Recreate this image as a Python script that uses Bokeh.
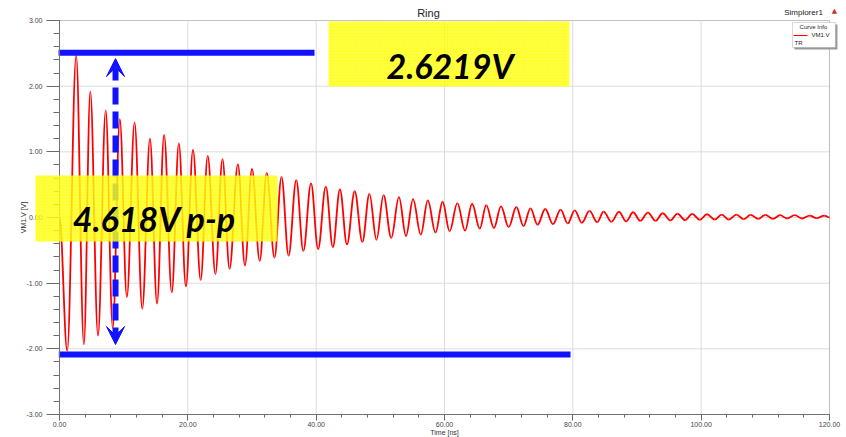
import numpy as np
from bokeh.plotting import figure
from bokeh.models import (Range1d, FixedTicker, PrintfTickFormatter, BoxAnnotation,
                          Label, Arrow, VeeHead)
from bokeh.embed import file_html
from bokeh.resources import INLINE

# ---- data: successive extremes of the ringing waveform ----
t_ext = [0.0, 1.2, 2.6, 3.8, 4.8, 6.0, 7.2, 8.3, 9.4, 10.5, 11.7, 12.9, 14.1, 15.2, 16.3,
         17.5, 18.6, 19.7, 20.8, 22.0, 23.1, 24.3, 25.4, 26.5, 27.8, 28.9, 30.0, 31.2,
         32.3, 33.5, 34.6, 35.7, 36.9, 38.0, 39.2, 40.3, 41.5, 42.6, 43.7, 44.8, 46.0,
         47.2, 48.3, 49.4, 50.5, 51.7, 52.9, 54.0, 55.1, 56.3, 57.4, 58.6, 59.7, 60.8,
         62.0, 63.2, 64.3, 65.5, 66.5, 67.7, 68.8, 70.0, 71.2, 72.3, 73.4, 74.5, 75.7,
         76.9, 78.1, 79.2, 80.3, 81.4, 82.6, 83.8, 84.8, 86.0, 87.2, 88.3, 89.4, 90.5,
         91.7, 92.9, 94.0, 95.2, 96.3, 97.5, 98.6, 99.8, 100.9, 102.1, 103.2, 104.3,
         105.5, 106.6, 107.7, 108.9, 110.0, 111.2, 112.3, 113.4, 114.6, 115.7, 116.9,
         118.0, 119.2, 120.0]
v_ext = [0.0, -2.03, 2.47, -1.93, 1.92, -1.80, 1.63, -1.68, 1.50, -1.21, 1.45, -1.39, 1.20,
         -1.31, 1.26, -1.14, 1.13, -1.05, 1.03, -0.95, 0.94, -0.86, 0.89, -0.78, 0.81,
         -0.73, 0.74, -0.66, 0.68, -0.61, 0.62, -0.58, 0.57, -0.51, 0.52, -0.48, 0.47,
         -0.45, 0.43, -0.41, 0.40, -0.37, 0.36, -0.34, 0.34, -0.31, 0.31, -0.28, 0.28,
         -0.26, 0.26, -0.23, 0.24, -0.21, 0.22, -0.20, 0.21, -0.17, 0.19, -0.16, 0.17,
         -0.145, 0.16, -0.13, 0.14, -0.11, 0.13, -0.10, 0.12, -0.09, 0.11, -0.08, 0.10,
         -0.07, 0.09, -0.065, 0.085, -0.06, 0.08, -0.05, 0.075, -0.05, 0.065, -0.045,
         0.06, -0.04, 0.055, -0.035, 0.05, -0.03, 0.045, -0.03, 0.045, -0.025, 0.04,
         -0.02, 0.04, -0.02, 0.035, -0.015, 0.035, -0.015, 0.03, -0.01, 0.03, 0.0]

x_major = [0, 20, 40, 60, 80, 100, 120]
y_major = [-3, -2, -1, 0, 1, 2, 3]
x_minor = list(range(0, 121, 4))
y_minor = [round(-3 + 0.2 * i, 1) for i in range(31)]

peak_level = 2.51        # top marker line (V)
trough_level = -2.086    # bottom marker line (V)
peak_text = "2.6219V"
pp_text = "4.618V p-p"
title_text = "Ring"
series_name = "VM1.V"

RED = "#ff0000"
BLUE = "#1212ff"
YEL = "#ffff00"
GRID = "#dcdcdc"
AXC = "#6a6a6a"

X0, X1 = 0, 120
Y0, Y1 = -3, 3

# the frame spans the whole canvas; the axes are pinned at the data edges
p = figure(width=846, height=437, output_backend="svg", toolbar_location=None,
           x_range=Range1d(-9.195, 122.65), y_range=Range1d(-3.350, 3.305),
           min_border=0, min_border_left=0, min_border_right=0,
           min_border_top=0, min_border_bottom=0)
p.background_fill_color = "white"
p.border_fill_color = "white"
p.outline_line_color = None
p.xgrid.visible = False
p.ygrid.visible = False

p.xaxis.ticker = FixedTicker(ticks=x_major, minor_ticks=x_minor)
p.yaxis.ticker = FixedTicker(ticks=y_major, minor_ticks=y_minor)
p.xaxis.fixed_location = Y0
p.yaxis.fixed_location = X0
p.xaxis.bounds = (X0, X1)
p.yaxis.bounds = (Y0, Y1)
for ax in (p.xaxis[0], p.yaxis[0]):
    ax.formatter = PrintfTickFormatter(format="%.2f")
    ax.axis_line_color = AXC
    ax.major_tick_line_color = AXC
    ax.minor_tick_line_color = AXC
    ax.major_tick_in = 0
    ax.minor_tick_in = 0
    ax.major_label_text_font = "Liberation Sans"
    ax.major_label_text_color = "#444444"
    ax.major_label_text_font_size = "7px"
p.yaxis.major_tick_out = 13
p.yaxis.minor_tick_out = 6
p.yaxis.major_label_standoff = 4
p.xaxis.major_tick_out = 6
p.xaxis.minor_tick_out = 3
p.xaxis.major_label_standoff = 1

# grid lines inside the data area only
p.segment(x0=x_major, y0=[Y0] * len(x_major), x1=x_major, y1=[Y1] * len(x_major),
          line_color=GRID, line_width=1)
p.segment(x0=[X0] * len(y_major), y0=y_major, x1=[X1] * len(y_major), y1=y_major,
          line_color=GRID, line_width=1)

# waveform: smooth segments between successive extremes (horizontal tangents at extremes)
t = np.array(t_ext, dtype=float)
v = np.array(v_ext, dtype=float)
k = 0.3642
dt = t[1:] - t[:-1]
p.bezier(x0=t[:-1], y0=v[:-1], x1=t[1:], y1=v[1:],
         cx0=t[:-1] + k * dt, cy0=v[:-1], cx1=t[1:] - k * dt, cy1=v[1:],
         line_color=RED, line_width=1.8)

# frame border (top / right)
p.add_layout(BoxAnnotation(left=X0, right=X1, bottom=Y0, top=Y1, fill_color=None,
                           line_color="#858585", line_width=1))

# blue marker lines
p.segment(x0=[-0.15, -0.11], y0=[peak_level, trough_level], x1=[39.74, 79.64],
          y1=[peak_level, trough_level], line_color=BLUE, line_width=6, line_cap="butt")

# dashed double arrow
arrow = Arrow(start=VeeHead(size=18, fill_color=BLUE, line_color=BLUE),
              end=VeeHead(size=18, fill_color=BLUE, line_color=BLUE),
              x_start=8.73, y_start=-1.934, x_end=8.73, y_end=2.42,
              line_color=BLUE, line_width=6, line_dash="17 7")
p.add_layout(arrow)

# yellow call-out boxes
for (l, r, b, tp) in [(41.92, 79.48, 1.995, 2.985), (-3.74, 33.97, -0.365, 0.640)]:
    p.add_layout(BoxAnnotation(left=l, right=r, bottom=b, top=tp, fill_color=YEL,
                               fill_alpha=0.82, line_color=None, hatch_pattern=".",
                               hatch_color="white", hatch_alpha=0.3, hatch_scale=3))

p.add_layout(Label(x=60.86, y=2.315, text=peak_text, text_font="Lato",
                   text_font_style="bold italic", text_font_size="34px", text_color="black",
                   text_align="center", text_baseline="alphabetic"))
p.add_layout(Label(x=14.8, y=-0.015, text=pp_text, text_font="Lato",
                   text_font_style="bold italic", text_font_size="34px", text_color="black",
                   text_align="center", text_baseline="alphabetic"))

# titles / axis labels
p.add_layout(Label(x=57.5, y=3.12, text=title_text, text_font="Liberation Sans",
                   text_font_size="11px", text_color="#222222", text_align="center",
                   text_baseline="middle"))
p.add_layout(Label(x=60.0, y=-3.274, text="Time [ns]", text_font="Liberation Sans",
                   text_font_size="7px", text_color="#333333", text_align="center",
                   text_baseline="middle"))
p.add_layout(Label(x=-5.56, y=0.0, text="VM1.V [V]", text_font="Liberation Sans",
                   text_font_size="7px", text_color="#333333", text_align="center",
                   text_baseline="middle", angle=np.pi / 2))
p.add_layout(Label(x=115.95, y=3.116, text="Simplorer1", text_font="Liberation Sans",
                   text_font_size="8px", text_color="#222222", text_align="center",
                   text_baseline="middle"))
p.add_layout(Label(x=120.78, y=3.14, text="\u25b2", text_font="DejaVu Sans",
                   text_font_size="7px", text_color="#c0392b", text_align="center",
                   text_baseline="middle"))

# curve info box
p.add_layout(BoxAnnotation(left=114.54, right=121.24, bottom=2.558, top=2.939,
                           fill_color="#9a9a9a", fill_alpha=1, line_color=None))
p.add_layout(BoxAnnotation(left=114.23, right=120.93, bottom=2.589, top=2.970,
                           fill_color="white", fill_alpha=1, line_color="#808080",
                           line_width=1))
p.add_layout(Label(x=117.5, y=2.909, text="Curve Info", text_font="Liberation Sans",
                   text_font_size="6px", text_color="#222222", text_align="center",
                   text_baseline="middle"))
p.add_layout(Arrow(start=None, end=None, x_start=114.39, y_start=2.772, x_end=116.57,
                   y_end=2.772, line_color=RED, line_width=1.2))
p.add_layout(Label(x=120.0, y=2.772, text=series_name, text_font="Liberation Sans",
                   text_font_size="6px", text_color="#222222", text_align="right",
                   text_baseline="middle"))
p.add_layout(Label(x=114.54, y=2.665, text="TR", text_font="Liberation Sans",
                   text_font_size="6px", text_color="#222222", text_align="left",
                   text_baseline="middle"))

open("out.html", "w").write(file_html(p, INLINE))
